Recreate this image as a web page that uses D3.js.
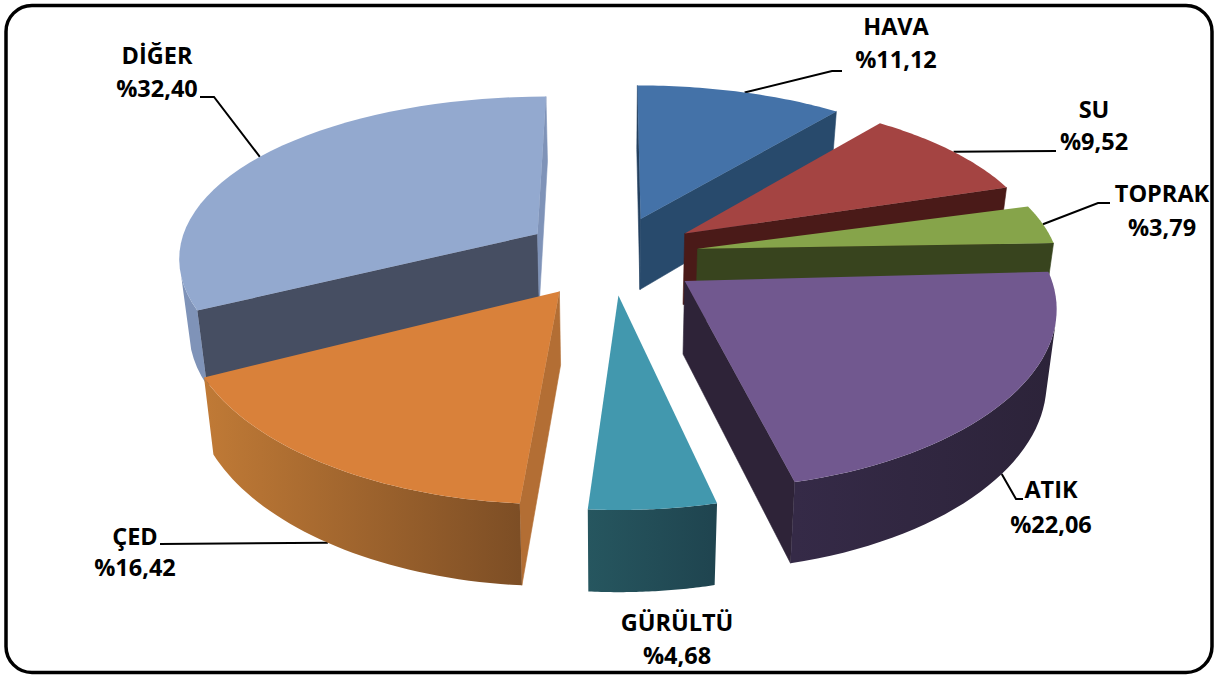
<!DOCTYPE html>
<html>
<head>
<meta charset="utf-8">
<script src="https://cdn.jsdelivr.net/npm/d3@7"></script>
<style>
  html, body { margin: 0; padding: 0; background: #fff; }
  text { font-family: "Open Sans", "Noto Sans", sans-serif; font-weight: 700; fill: #000; }
</style>
</head>
<body>
<div id="chart-area"></div>
<script>
const categories = ["HAVA", "SU", "TOPRAK", "ATIK", "GÜRÜLTÜ", "ÇED", "DİĞER"];
const shares = [11.12, 9.52, 3.79, 22.06, 4.68, 16.42, 32.40];
const valueLabels = ["%11,12", "%9,52", "%3,79", "%22,06", "%4,68", "%16,42", "%32,40"];

const topColors = ["#4472a8", "#a44442", "#86a44a", "#71588f", "#4298ae", "#d9813a", "#93a9cf"];
const wallColors = [["#284a6c", "#284a6c"], ["#4a1a18", "#4a1a18"], ["#38441e", "#38441e"],
    ["#352a47", "#2c2339"], ["#26565f", "#1f444f"], ["#c07a36", "#7d4e25"], ["#7f93b8", "#7f93b8"]];
const startCutColors = ["#23405f", "#4a1a18", "#38441e", "#2e2338", "#26565f", "#b36e34", "#464e62"];
const endCutColors = ["#284a6c", "#4a1a18", "#38441e", "#2e2338", "#1f444f", "#b36e34", "#7f93b8"];

// per slice tweaks of the 3d look: extra pull out (px), small turn and end trim (deg)
const extraExplode = [1, 3, 2, 5, 0, 7, 4];
const spinDeg = [0, -1.2, 0, -1, -0.6, 0, 0];
const endTrimDeg = [1.5, 0.8, 0, 0, -0.6, 0, 0];

// label position + leader elbow points
const labelLayout = [
    { x: 896, y: 27, y2: 60, elbow: [[832, 71], [842, 71]] },
    { x: 1094, y: 110, y2: 142, elbow: [[1056, 151]] },
    { x: 1162, y: 194, y2: 228, elbow: [[1098, 203], [1110, 203]] },
    { x: 1051, y: 490, y2: 525, elbow: [[1016, 499], [1023, 499]] },
    { x: 677, y: 623, y2: 656, elbow: null },
    { x: 135, y: 537, y2: 568, elbow: [[160, 544]] },
    { x: 157, y: 56, y2: 89, elbow: [[214, 97], [200, 97]] }
];

const W = 1217, H = 675;
const cx = 612, cy = 255;
const R = 360, explode = 85, tilt = 0.46, depth = 72;
const kx = 0.13, ky = 0.16, kz = 0.1, shrink = 0.023;

function project(a, r, off, z) {
    const X = r * Math.sin(a) + off.x;
    const Y = r * Math.cos(a) + off.y;
    const sx = (1 - shrink * z) / (1 + kx * Y / R);
    const sy = 1 / (1 + ky * Y / R);
    const sz = 1 / (1 + kz * Y / R);
    return [cx + X * sx, cy - Y * tilt * sy + z * depth * sz];
}

const arcs = d3.pie().sort(null).value((d) => d)(shares);

const svg = d3.select("#chart-area").append("svg")
    .attr("width", W).attr("height", H)
    .style("display", "block");

const defs = svg.append("defs");

svg.append("rect")
    .attr("x", 6).attr("y", 5.5).attr("width", W - 11).attr("height", H - 8)
    .attr("rx", 26).attr("ry", 26)
    .attr("fill", "#fff").attr("stroke", "#000").attr("stroke-width", 3.5);

const line = d3.line();
const leaders = svg.append("g");
const slices = svg.append("g");
const labels = svg.append("g");

const signedArea = (p) => d3.polygonArea(p);

// back slices first
const drawOrder = [0, 6, 1, 2, 3, 5, 4];

drawOrder.forEach((i) => {
    const d = arcs[i];
    const mid = (d.startAngle + d.endAngle) / 2;
    const pull = explode + extraExplode[i];
    const spin = spinDeg[i] * Math.PI / 180;
    const endAngle = d.endAngle - endTrimDeg[i] * Math.PI / 180;
    const off = { x: pull * Math.sin(mid), y: pull * Math.cos(mid) };
    const g = slices.append("g").attr("class", "slice");

    const angles = d3.range(0, 41).map((n) => spin + d.startAngle + (endAngle - d.startAngle) * n / 40);
    const rim = angles.map((a) => project(a, R, off, 0));
    const rimLow = angles.map((a) => project(a, R, off, 1));
    const apex = project(0, 0, off, 0);
    const apexLow = project(0, 0, off, 1);

    const cutStart = [apex, rim[0], rimLow[0], apexLow];
    const cutEnd = [rim[40], apex, apexLow, rimLow[40]];
    const faces = [
        { pts: cutStart, color: startCutColors[i] },
        { pts: cutEnd, color: endCutColors[i] }
    ];
    // back faces are culled
    faces.filter((f) => signedArea(f.pts) > 0).forEach((f) => {
        g.append("path").attr("d", line(f.pts) + "Z")
            .attr("fill", f.color).attr("stroke", f.color).attr("stroke-width", 0.6);
    });

    // outer wall: only the part that looks at the viewer
    const front = d3.range(0, 41).filter((n) => {
        const m = Math.min(n, 39);
        return signedArea([rim[m], rim[m + 1], rimLow[m + 1], rimLow[m]]) > 0;
    });
    if (front.length > 1) {
        const upper = front.map((n) => rim[n]);
        const lower = front.map((n) => rimLow[n]).reverse();
        const xs = d3.extent(upper, (p) => p[0]);
        const grad = defs.append("linearGradient")
            .attr("id", "wall-" + i)
            .attr("gradientUnits", "userSpaceOnUse")
            .attr("x1", xs[0]).attr("x2", xs[1]).attr("y1", 0).attr("y2", 0);
        grad.append("stop").attr("offset", 0).attr("stop-color", wallColors[i][0]);
        grad.append("stop").attr("offset", 1).attr("stop-color", wallColors[i][1]);
        g.append("path").attr("d", line(upper.concat(lower)) + "Z")
            .attr("fill", "url(#wall-" + i + ")");
    }

    g.append("path")
        .attr("d", line([apex].concat(rim)) + "Z")
        .attr("fill", topColors[i]);

    const lay = labelLayout[i];
    if (lay.elbow) {
        // front slices: the leader comes from under the wall
        const start = project(mid + spin, R, off, Math.cos(mid) < 0 ? 1 : 0);
        leaders.append("path")
            .attr("d", line([start].concat(lay.elbow)))
            .attr("fill", "none").attr("stroke", "#000").attr("stroke-width", 2);
    }
    labels.append("text")
        .attr("x", lay.x).attr("y", lay.y)
        .attr("dy", "0.35em").attr("text-anchor", "middle")
        .style("font-size", "23.5px")
        .text(categories[i]);
    labels.append("text")
        .attr("x", lay.x).attr("y", lay.y2)
        .attr("dy", "0.35em").attr("text-anchor", "middle")
        .style("font-size", "23.5px")
        .text(valueLabels[i]);
});
</script>
</body>
</html>
